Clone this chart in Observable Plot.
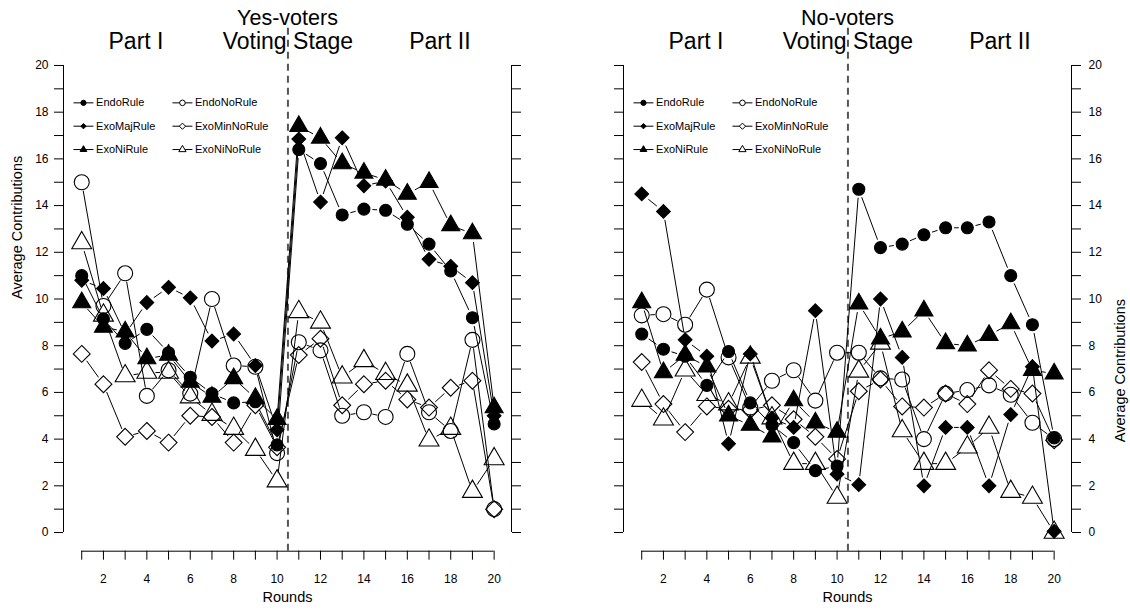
<!DOCTYPE html>
<html><head><meta charset="utf-8">
<script src="https://cdn.jsdelivr.net/npm/d3@7"></script>
<script src="https://cdn.jsdelivr.net/npm/@observablehq/plot@0.6"></script>
<style>
html,body{margin:0;padding:0;background:#fff;}
#wrap{display:flex;width:1130px;height:612px;}
</style></head><body><div id="wrap"></div>
<script>
// ---- data ----
const rounds = d3.range(1, 21);
const seriesNames = ["EndoRule", "ExoMajRule", "ExoNiRule", "EndoNoRule", "ExoMinNoRule", "ExoNiNoRule"];
const panelTitles = ["Yes-voters", "No-voters"];
const partLabels = ["Part I", "Voting Stage", "Part II"];
const partRounds = [3.5, 10.5, 17.5];
const yTickValues = d3.range(0, 21);

const yesEndoRule     = [11.0, 9.15, 8.1, 8.7, 7.7, 6.65, 5.95, 5.55, 5.6, 3.75, 16.4, 15.8, 13.6, 13.85, 13.8, 13.2, 12.35, 11.2, 9.2, 4.65];
const yesEndoNoRule   = [15.0, 9.7, 11.1, 5.85, 6.95, 5.95, 10.0, 7.15, 7.1, 3.4, 8.15, 7.8, 5.0, 5.15, 4.95, 7.65, 5.15, 4.35, 8.25, 1.0];
const yesExoMajRule   = [10.8, 10.45, 8.5, 9.85, 10.5, 10.05, 8.2, 8.5, 7.15, 4.4, 16.85, 14.15, 16.9, 14.85, 15.05, 13.5, 11.7, 11.4, 10.7, 5.0];
const yesExoMinNoRule = [7.65, 6.35, 4.1, 4.35, 3.85, 5.0, 4.95, 3.85, 5.45, 3.65, 7.6, 8.3, 5.45, 6.35, 6.5, 5.7, 5.35, 6.2, 6.5, 1.0];
const yesExoNiRule    = [9.85, 8.8, 8.6, 7.45, 7.6, 6.45, 5.8, 6.6, 5.75, 4.85, 17.4, 16.9, 15.8, 15.4, 15.1, 14.5, 15.0, 13.15, 12.8, 5.35];
const yesExoNiNoRule  = [12.4, 9.3, 6.7, 6.85, 6.85, 5.8, 5.05, 4.45, 3.55, 2.2, 9.45, 9.0, 6.65, 7.35, 6.8, 6.3, 3.95, 4.45, 1.75, 3.15];

const noEndoRule      = [8.5, 7.85, 7.55, 6.3, 7.75, 5.55, 4.6, 3.85, 2.65, 2.85, 14.7, 12.2, 12.35, 12.75, 13.05, 13.05, 13.3, 11.0, 8.9, 4.05];
const noEndoNoRule    = [9.3, 9.35, 8.9, 10.4, 7.5, 5.35, 6.5, 6.95, 5.65, 7.7, 7.7, 6.6, 6.55, 4.0, 5.95, 6.1, 6.3, 5.9, 4.7, 4.0];
const noExoMajRule    = [14.5, 13.75, 8.25, 7.55, 3.8, 7.65, 4.9, 4.5, 9.5, 2.5, 2.05, 10.0, 7.5, 2.0, 4.5, 4.5, 2.0, 5.05, 7.1, 0.05];
const noExoMinNoRule  = [7.3, 5.5, 4.3, 5.4, 5.3, 5.25, 5.45, 4.85, 4.1, 3.15, 6.05, 6.55, 5.4, 5.35, 5.95, 5.5, 6.95, 6.15, 5.95, 3.95];
const noExoNiRule     = [9.85, 6.85, 7.6, 7.1, 5.0, 4.6, 4.1, 5.65, 4.7, 4.3, 9.8, 8.3, 8.6, 9.5, 8.1, 8.0, 8.45, 8.95, 6.95, 6.8];
const noExoNiNoRule   = [5.65, 4.85, 6.95, 5.9, 5.5, 7.5, 4.9, 2.95, 2.95, 1.5, 6.9, 8.1, 4.35, 2.95, 2.95, 3.65, 4.5, 1.75, 1.5, 0.0];

const yesSeries = [yesEndoRule, yesExoMajRule, yesExoNiRule, yesEndoNoRule, yesExoMinNoRule, yesExoNiNoRule];
const noSeries  = [noEndoRule, noExoMajRule, noExoNiRule, noEndoNoRule, noExoMinNoRule, noExoNiNoRule];

// ---- styles ----
const seriesSymbol = ["circle", "diamond2", "triangle", "circle", "diamond2", "triangle"];
const seriesFilled = [true, true, true, false, false, false];
const seriesR      = [6, 6.2, 6.7, 7.5, 7.6, 7.4];
const legendR      = [2.6, 2.4, 2.5, 2.8, 2.8, 2.7];
const legendCol    = [0, 0, 0, 1, 1, 1];
const legendRow    = [0, 1, 2, 0, 1, 2];
const legendColX   = [1.08, 5.64];   // legend layout (round units)
const legendRowY   = [18.4, 17.4, 16.4];
const legendHalf   = 0.46;

const X_DOMAIN = [0.16, 20.8];
const Y_DOMAIN = [-0.8, 20.8];
const FONT = "Liberation Sans, Arial, Helvetica, sans-serif";
const evenFmt = d => (d % 2 === 0 ? String(d) : "");
const noFmt = () => "";

function panel(title, series, right) {
  const marks = [];
  // axis lines
  marks.push(Plot.ruleX([X_DOMAIN[0]], {y1: 0, y2: 20, stroke: "black", strokeWidth: 1}));
  marks.push(Plot.ruleX([X_DOMAIN[1]], {y1: 0, y2: 20, stroke: "black", strokeWidth: 1}));
  marks.push(Plot.ruleY([Y_DOMAIN[0]], {x1: 1, x2: 20, stroke: "black", strokeWidth: 1}));
  marks.push(Plot.axisY({anchor: "left", ticks: yTickValues, tickSize: 9, tickPadding: 6,
    tickFormat: right ? noFmt : evenFmt, fontSize: 12, label: null}));
  marks.push(Plot.axisY({anchor: "right", ticks: yTickValues, tickSize: 9, tickPadding: 8,
    tickFormat: right ? evenFmt : noFmt, fontSize: 12, label: null}));
  marks.push(Plot.axisX({ticks: rounds, tickSize: 9, tickPadding: 14, tickFormat: evenFmt, fontSize: 12, label: null}));
  // stage divider
  marks.push(Plot.ruleX([10.5], {y1: Y_DOMAIN[0], y2: 21.75, stroke: "#555", strokeWidth: 2, strokeDasharray: "7,5"}));
  // texts
  marks.push(Plot.text([title], {frameAnchor: "top", dy: -28.5, lineAnchor: "middle", fontSize: 21.5, fill: "black"}));
  marks.push(Plot.text(partLabels, {x: (d, i) => partRounds[i], y: 21.03, text: d => d, fontSize: 23, fill: "black"}));
  marks.push(Plot.text(["Average Contributions"], {frameAnchor: right ? "right" : "left", rotate: -90,
    dx: right ? 49 : -46, fontSize: 14.5, fill: "black"}));
  marks.push(Plot.text(["Rounds"], {frameAnchor: "bottom", dy: 51, fontSize: 14.5, fill: "black"}));
  // legend
  const leg = seriesNames.map((name, i) => ({name, i, x: legendColX[legendCol[i]], y: legendRowY[legendRow[i]]}));
  marks.push(Plot.link(leg, {x1: d => d.x - legendHalf, x2: d => d.x + legendHalf, y1: "y", y2: "y", stroke: "black", strokeWidth: 1}));
  leg.forEach(d => {
    marks.push(Plot.dot([d], {x: "x", y: "y", symbol: seriesSymbol[d.i], r: legendR[d.i],
      fill: seriesFilled[d.i] ? "black" : "white", stroke: "black", strokeWidth: 1}));
  });
  marks.push(Plot.text(leg, {x: d => d.x + legendHalf + 0.12, y: "y", text: "name", textAnchor: "start", fontSize: 11, fill: "black"}));
  // series
  series.forEach((vals, i) => {
    const pts = rounds.map((r, j) => ({x: r, y: vals[j]}));
    const segs = pts.slice(1).map((p, j) => ({x1: pts[j].x, y1: pts[j].y, x2: p.x, y2: p.y}));
    marks.push(Plot.arrow(segs, {x1: "x1", y1: "y1", x2: "x2", y2: "y2", headLength: 0, inset: 8.5,
      stroke: "black", strokeWidth: 1, strokeLinecap: "butt"}));
    marks.push(Plot.dot(pts, {x: "x", y: "y", symbol: seriesSymbol[i], r: seriesR[i],
      fill: seriesFilled[i] ? "black" : "none", stroke: "black", strokeWidth: 1.1}));
  });
  return Plot.plot({
    width: 565, height: 612,
    marginLeft: right ? 58 : 63, marginRight: right ? 59 : 54,
    marginTop: 46.3, marginBottom: 61.3,
    x: {domain: X_DOMAIN, label: null},
    y: {domain: Y_DOMAIN, label: null},
    style: {fontFamily: FONT, background: "white", color: "black", overflow: "visible"},
    marks
  });
}

const wrap = document.getElementById("wrap");
wrap.appendChild(panel(panelTitles[0], yesSeries, false));
wrap.appendChild(panel(panelTitles[1], noSeries, true));
</script>
</body></html>
